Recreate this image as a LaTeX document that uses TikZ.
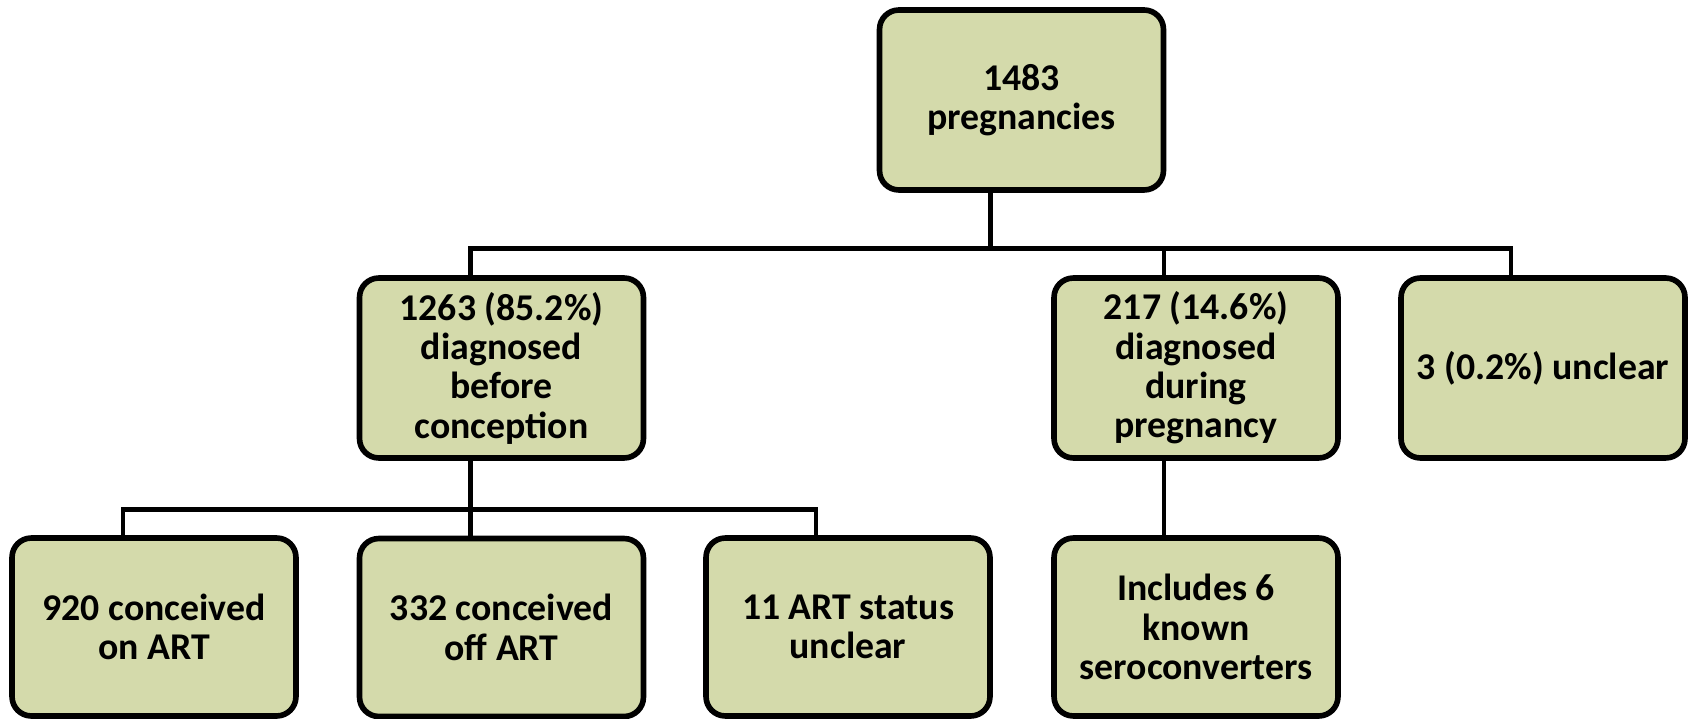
\documentclass[tikz,border=0pt]{standalone}
\usepackage{fontspec}
\setmainfont{Carlito}
\definecolor{boxfill}{RGB}{212,218,171}
\begin{document}
\begin{tikzpicture}[x=0.02cm,y=-0.02cm,
  box/.style={draw=black,line width=3.2pt,fill=boxfill,rounded corners=11pt,
    minimum width=5.68cm,minimum height=3.6cm,align=center,inner sep=2pt,
    font=\fontsize{21.5}{22.4}\selectfont\bfseries},
  lowbox/.style={box,minimum height=3.56cm},
  conn/.style={draw=black,line width=2.6pt}]
\useasboundingbox (0,0) rectangle (1690,719);
% nodes
\node[box] (top) at (1021.5,100) {1483\\pregnancies};
\node[box] (A) at (501.5,368) {1263 (85.2\%)\\diagnosed\\before\\conception};
\node[box] (B) at (1196,368) {217 (14.6\%)\\diagnosed\\during\\pregnancy};
\node[box] (C) at (1543,368) {3 (0.2\%) unclear};
\node[lowbox] (D) at (154,627) {920 conceived\\on ART};
\node[lowbox] (E) at (501.5,627.5) {332 conceived\\off ART};
\node[lowbox] (F) at (848,627) {11 ART status\\unclear};
\node[lowbox] (G) at (1196,627) {Includes 6\\known\\seroconverters};
% junctions
\coordinate (j0) at (990.5,248.5);
\coordinate (jA) at (470.5,248.5);
\coordinate (jB) at (1164,248.5);
\coordinate (jC) at (1511,248.5);
\coordinate (kA) at (470.5,509.5);
\coordinate (kD) at (123,509.5);
\coordinate (kF) at (816,509.5);
\coordinate (kG) at (1164,498);
% connectors
\draw[conn] (top.south -| j0) -- (j0);
\draw[conn] (A.north -| jA) -- (jA) -- (jC) -- (C.north -| jC);
\draw[conn] (jB) -- (B.north -| jB);
\draw[conn] (A.south -| kA) -- (E.north -| kA);
\draw[conn] (D.north -| kD) -- (kD) -- (kF) -- (F.north -| kF);
\draw[conn] (B.south -| kG) -- (G.north -| kG);
\end{tikzpicture}
\end{document}
